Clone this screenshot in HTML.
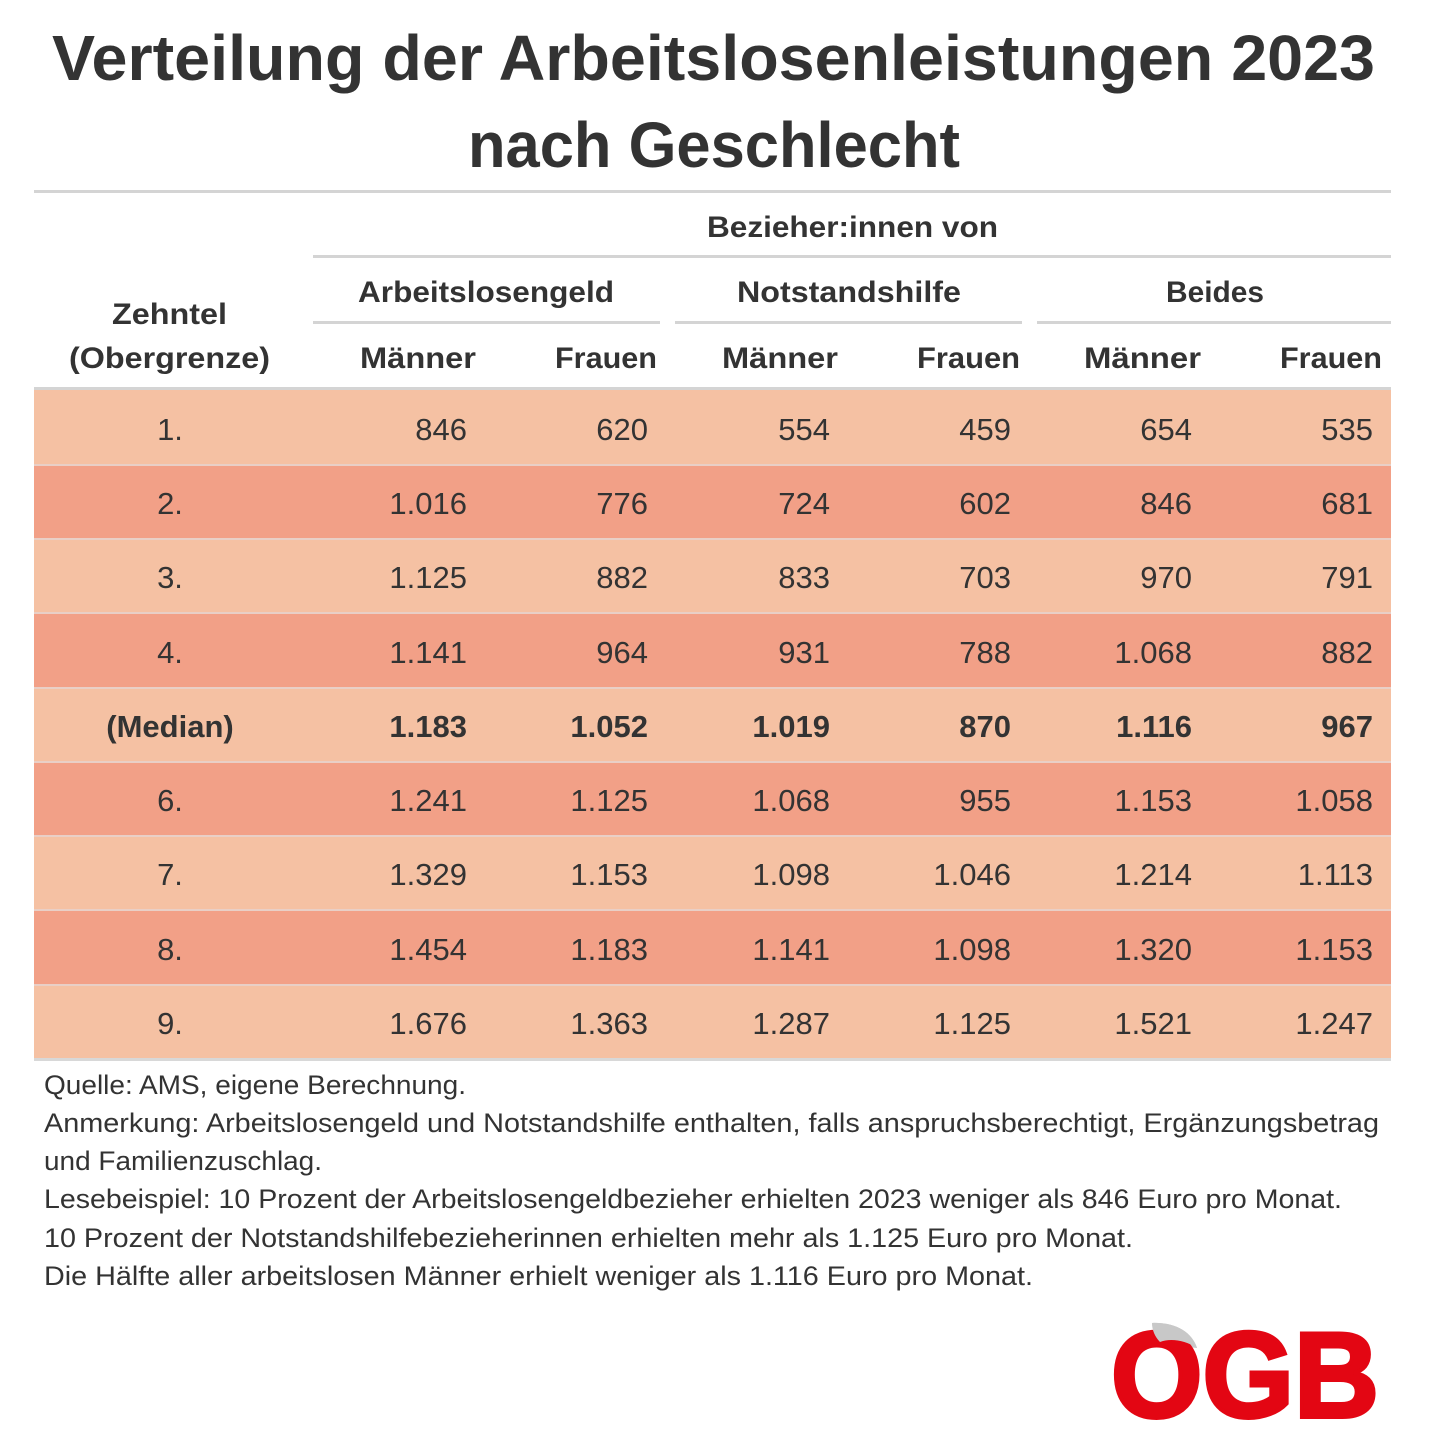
<!DOCTYPE html>
<html><head><meta charset="utf-8"><style>
html,body{margin:0;padding:0;background:#fff;}
svg{display:block;}
text{font-family:"Liberation Sans",sans-serif;fill:#333;}
.b{font-weight:bold;}
.n{font-size:31px;}
</style></head><body>
<svg width="1431" height="1440" viewBox="0 0 1431 1440" xmlns="http://www.w3.org/2000/svg">
<rect width="1431" height="1440" fill="#fff"/>
<!-- Title -->
<text class="b" x="52" y="80" font-size="64" textLength="1323" lengthAdjust="spacingAndGlyphs">Verteilung der Arbeitslosenleistungen 2023</text>
<text class="b" x="468" y="167" font-size="64" textLength="492" lengthAdjust="spacingAndGlyphs">nach Geschlecht</text>
<!-- rules -->
<rect x="34" y="190" width="1357" height="3" fill="#d4d4d4"/>
<rect x="313" y="255" width="1078" height="3" fill="#d4d4d4"/>
<rect x="313" y="321" width="347" height="3" fill="#d4d4d4"/>
<rect x="675" y="321" width="347" height="3" fill="#d4d4d4"/>
<rect x="1037" y="321" width="354" height="3" fill="#d4d4d4"/>
<!-- header text -->
<text class="b" x="707" y="237" font-size="30" textLength="291" lengthAdjust="spacingAndGlyphs">Bezieher:innen von</text>
<text class="b" x="358" y="302" font-size="30" textLength="256" lengthAdjust="spacingAndGlyphs">Arbeitslosengeld</text>
<text class="b" x="737" y="302" font-size="30" textLength="224" lengthAdjust="spacingAndGlyphs">Notstandshilfe</text>
<text class="b" x="1166" y="302" font-size="30" textLength="98" lengthAdjust="spacingAndGlyphs">Beides</text>
<text class="b" x="112" y="324" font-size="30" textLength="115" lengthAdjust="spacingAndGlyphs">Zehntel</text>
<text class="b" x="69" y="368" font-size="30" textLength="201" lengthAdjust="spacingAndGlyphs">(Obergrenze)</text>
<text class="b" x="360" y="368" font-size="30" textLength="116" lengthAdjust="spacingAndGlyphs">Männer</text>
<text class="b" x="555" y="368" font-size="30" textLength="102" lengthAdjust="spacingAndGlyphs">Frauen</text>
<text class="b" x="722" y="368" font-size="30" textLength="116" lengthAdjust="spacingAndGlyphs">Männer</text>
<text class="b" x="917" y="368" font-size="30" textLength="103" lengthAdjust="spacingAndGlyphs">Frauen</text>
<text class="b" x="1084" y="368" font-size="30" textLength="117" lengthAdjust="spacingAndGlyphs">Männer</text>
<text class="b" x="1280" y="368" font-size="30" textLength="102" lengthAdjust="spacingAndGlyphs">Frauen</text>
<!-- rows background -->
<rect x="34" y="387" width="1357" height="3" fill="#d4d4d4"/>
<rect x="34" y="390" width="1357" height="75" fill="#f5c1a3"/>
<rect x="34" y="465" width="1357" height="74" fill="#f2a087"/>
<rect x="34" y="539" width="1357" height="74" fill="#f5c1a3"/>
<rect x="34" y="613" width="1357" height="75" fill="#f2a087"/>
<rect x="34" y="688" width="1357" height="74" fill="#f5c1a3"/>
<rect x="34" y="762" width="1357" height="74" fill="#f2a087"/>
<rect x="34" y="836" width="1357" height="74" fill="#f5c1a3"/>
<rect x="34" y="910" width="1357" height="75" fill="#f2a087"/>
<rect x="34" y="985" width="1357" height="74" fill="#f5c1a3"/>
<g fill="#e9cfc6">
<rect x="34" y="464" width="1357" height="2"/>
<rect x="34" y="538" width="1357" height="2"/>
<rect x="34" y="612" width="1357" height="2"/>
<rect x="34" y="687" width="1357" height="2"/>
<rect x="34" y="761" width="1357" height="2"/>
<rect x="34" y="835" width="1357" height="2"/>
<rect x="34" y="909" width="1357" height="2"/>
<rect x="34" y="984" width="1357" height="2"/>
</g>
<rect x="34" y="1058" width="1357" height="3" fill="#d8d8d8"/>
<!-- row text -->
<g class="n" text-anchor="end">
<text x="467" y="440">846</text><text x="648" y="440">620</text><text x="830" y="440">554</text><text x="1011" y="440">459</text><text x="1192" y="440">654</text><text x="1373" y="440">535</text>
<text x="467" y="514">1.016</text><text x="648" y="514">776</text><text x="830" y="514">724</text><text x="1011" y="514">602</text><text x="1192" y="514">846</text><text x="1373" y="514">681</text>
<text x="467" y="588">1.125</text><text x="648" y="588">882</text><text x="830" y="588">833</text><text x="1011" y="588">703</text><text x="1192" y="588">970</text><text x="1373" y="588">791</text>
<text x="467" y="663">1.141</text><text x="648" y="663">964</text><text x="830" y="663">931</text><text x="1011" y="663">788</text><text x="1192" y="663">1.068</text><text x="1373" y="663">882</text>
<g class="b"><text x="467" y="737">1.183</text><text x="648" y="737">1.052</text><text x="830" y="737">1.019</text><text x="1011" y="737">870</text><text x="1192" y="737">1.116</text><text x="1373" y="737">967</text></g>
<text x="467" y="811">1.241</text><text x="648" y="811">1.125</text><text x="830" y="811">1.068</text><text x="1011" y="811">955</text><text x="1192" y="811">1.153</text><text x="1373" y="811">1.058</text>
<text x="467" y="885">1.329</text><text x="648" y="885">1.153</text><text x="830" y="885">1.098</text><text x="1011" y="885">1.046</text><text x="1192" y="885">1.214</text><text x="1373" y="885">1.113</text>
<text x="467" y="960">1.454</text><text x="648" y="960">1.183</text><text x="830" y="960">1.141</text><text x="1011" y="960">1.098</text><text x="1192" y="960">1.320</text><text x="1373" y="960">1.153</text>
<text x="467" y="1034">1.676</text><text x="648" y="1034">1.363</text><text x="830" y="1034">1.287</text><text x="1011" y="1034">1.125</text><text x="1192" y="1034">1.521</text><text x="1373" y="1034">1.247</text>
</g>
<g class="n" text-anchor="middle">
<text x="170" y="440">1.</text>
<text x="170" y="514">2.</text>
<text x="170" y="588">3.</text>
<text x="170" y="663">4.</text>
<text class="b" x="170" y="737">(Median)</text>
<text x="170" y="811">6.</text>
<text x="170" y="885">7.</text>
<text x="170" y="960">8.</text>
<text x="170" y="1034">9.</text>
</g>
<!-- notes -->
<g font-size="27">
<text x="44" y="1094" textLength="422" lengthAdjust="spacingAndGlyphs">Quelle: AMS, eigene Berechnung.</text>
<text x="44" y="1132" textLength="1335" lengthAdjust="spacingAndGlyphs">Anmerkung: Arbeitslosengeld und Notstandshilfe enthalten, falls anspruchsberechtigt, Ergänzungsbetrag</text>
<text x="44" y="1170" textLength="278" lengthAdjust="spacingAndGlyphs">und Familienzuschlag.</text>
<text x="44" y="1208" textLength="1298" lengthAdjust="spacingAndGlyphs">Lesebeispiel: 10 Prozent der Arbeitslosengeldbezieher erhielten 2023 weniger als 846 Euro pro Monat.</text>
<text x="44" y="1247" textLength="1089" lengthAdjust="spacingAndGlyphs">10 Prozent der Notstandshilfebezieherinnen erhielten mehr als 1.125 Euro pro Monat.</text>
<text x="44" y="1285" textLength="989" lengthAdjust="spacingAndGlyphs">Die Hälfte aller arbeitslosen Männer erhielt weniger als 1.116 Euro pro Monat.</text>
</g>
<!-- logo -->
<path d="M1152,1323 C1175,1322 1192,1332 1197,1348 L1168,1345 C1160,1340 1153,1333 1152,1323 Z" fill="#c8c8c8"/>
<text x="1111" y="1417" font-size="122" font-weight="bold" textLength="268" lengthAdjust="spacingAndGlyphs" style="fill:#e30613;stroke:#e30613;stroke-width:4px;">OGB</text>
<path d="M1152,1323 C1175,1322 1192,1332 1197,1348 C1185,1340 1170,1338 1160,1342 C1155,1337 1152,1330 1152,1323 Z" fill="#c8c8c8"/>
</svg>
</body></html>
